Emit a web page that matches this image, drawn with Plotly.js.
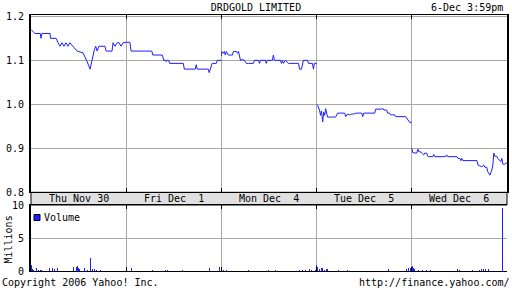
<!DOCTYPE html>
<html>
<head>
<meta charset="utf-8">
<script src="https://cdn.plot.ly/plotly-3.0.1.min.js"></script>
<style>html,body{margin:0;padding:0;background:#fff;}#chart{width:512px;height:288px;}</style>
</head>
<body>
<div id="chart"></div>
<script>
// ---- data ----
const dayLabels = ["Thu Nov 30", "Fri Dec\u00a0 1", "Mon Dec\u00a0 4", "Tue Dec\u00a0 5", "Wed Dec\u00a0 6"];

const thuTimes = ["09:30","09:46","10:08","10:11","10:15","10:48","10:50","11:13","11:21","11:29","11:37","11:45","11:53","12:01","12:09","12:22","12:39","13:03","13:10","13:20","13:32","13:38","13:45","13:50","13:55","14:01","14:08","14:33","14:38","15:02","15:06","15:14","15:23","15:31","15:39","15:47","16:00"];
const thuPrice = [1.170,1.161,1.161,1.150,1.161,1.161,1.150,1.150,1.140,1.132,1.140,1.132,1.140,1.132,1.140,1.131,1.121,1.117,1.110,1.097,1.080,1.097,1.112,1.125,1.132,1.121,1.132,1.132,1.121,1.121,1.140,1.132,1.140,1.140,1.132,1.140,1.141];

const friTimes = ["09:30","09:45","09:50","11:15","11:19","11:58","12:04","12:12","12:14","12:18","12:24","12:28","13:24","13:28","14:13","14:17","14:21","15:06","15:10","15:16","15:22","15:39","15:43","16:00"];
const friPrice = [1.141,1.141,1.121,1.121,1.112,1.112,1.100,1.100,1.097,1.100,1.100,1.093,1.093,1.080,1.080,1.090,1.080,1.080,1.072,1.085,1.093,1.093,1.100,1.100];

const monTimes = ["09:30","09:32","09:38","09:42","09:46","09:50","09:59","10:15","10:19","10:32","10:36","10:40","10:48","10:56","11:04","11:12","11:21","11:41","11:45","12:02","12:06","12:10","12:30","12:34","12:38","12:59","13:03","13:07","13:32","13:36","13:40","13:44","13:52","14:05","14:46","14:50","14:58","15:02","15:06","15:23","15:27","15:43","15:47","15:51","16:00"];
const monPrice = [1.110,1.120,1.116,1.120,1.112,1.120,1.112,1.112,1.120,1.120,1.116,1.120,1.100,1.102,1.100,1.093,1.093,1.093,1.100,1.100,1.093,1.100,1.100,1.093,1.100,1.100,1.112,1.100,1.100,1.093,1.100,1.093,1.100,1.093,1.093,1.080,1.080,1.093,1.100,1.100,1.093,1.093,1.080,1.093,1.093];

const tueTimes = ["09:30","09:34","09:42","09:46","09:50","09:55","09:59","10:03","10:07","10:11","10:15","10:48","10:52","10:56","11:25","11:29","11:37","11:45","11:53","12:01","12:14","12:35","12:39","12:43","13:28","13:32","13:57","14:01","14:05","14:17","14:21","14:29","14:33","14:50","14:54","15:35","15:39","15:47","15:51","16:00"];
const tuePrice = [1.000,0.998,0.987,0.975,0.985,0.960,0.982,0.975,0.990,0.978,0.971,0.971,0.978,0.980,0.980,0.972,0.978,0.976,0.978,0.978,0.980,0.980,0.972,0.980,0.980,0.989,0.989,0.991,0.987,0.987,0.980,0.980,0.976,0.976,0.972,0.972,0.969,0.964,0.959,0.959];

const wedTimes = ["09:30","09:34","09:50","09:55","09:59","10:07","10:11","10:19","10:23","10:31","10:35","10:39","10:56","11:00","11:04","11:49","11:53","11:57","12:35","12:39","12:47","12:51","12:55","12:59","13:57","14:01","14:09","14:17","14:25","14:29","14:37","14:41","14:50","14:54","14:58","15:02","15:06","15:10","15:18","15:22","15:31","15:35","15:39","15:43","15:51","15:55","16:00"];
const wedPrice = [0.900,0.890,0.889,0.898,0.892,0.892,0.889,0.885,0.889,0.889,0.882,0.881,0.881,0.886,0.881,0.881,0.885,0.881,0.881,0.877,0.877,0.872,0.877,0.872,0.872,0.862,0.860,0.858,0.862,0.857,0.857,0.847,0.839,0.845,0.851,0.862,0.889,0.882,0.882,0.877,0.873,0.870,0.877,0.864,0.864,0.866,0.866];

const thuVolTimes = ["09:30","09:34","09:38","09:50","09:59","10:07","10:11","10:44","10:56","11:04","11:17","12:22","12:35","12:39","12:43","12:47","13:07","13:20","13:32","13:40","13:48","13:56","14:13"];
const thuVol = [0.96,0.3,0.2,0.46,0.2,0.2,0.2,0.46,0.46,0.3,0.46,0.61,0.61,0.81,0.46,0.3,0.4,0.2,1.99,0.3,0.3,0.2,0.2];
const friVolTimes = ["09:50","11:17","12:10","12:18","13:20","15:10","15:51"];
const friVol = [0.4,0.2,0.2,0.2,0.2,0.4,0.6];
const monVolTimes = ["09:30","09:38","09:50","11:21","12:43","13:11","14:50","15:02","15:14","15:31","15:39","15:55"];
const monVol = [0.65,0.2,0.2,0.2,0.2,0.2,0.2,0.2,0.2,0.3,0.2,0.2];
const tueVolTimes = ["09:30","09:34","09:42","09:50","09:55","10:03","10:11","10:15","11:00","11:37","14:01","14:25","15:39","15:47","15:55"];
const tueVol = [0.96,0.6,0.3,0.5,0.4,0.2,0.3,0.3,0.2,0.2,0.3,0.3,0.3,0.4,0.5];
const wedVolTimes = ["09:30","09:34","09:42","09:55","10:11","10:31","10:44","11:04","12:35","12:43","13:36","14:05","14:13","14:21","14:29","14:37","14:45","15:39"];
const wedVol = [0.8,0.5,0.3,0.2,0.2,0.2,0.2,0.3,0.3,0.2,0.2,0.2,0.3,0.3,0.3,0.4,0.3,9.6];

const priceTicks = [0.8, 0.9, 1.0, 1.1, 1.2];
const volTicks = [0, 5, 10];

// ---- helpers ----
const SESSION = 390; // minutes per trading day (9:30-16:00)
function toX(dayIdx, hhmm) {
  const [h, m] = hhmm.split(":").map(Number);
  return dayIdx * SESSION + (h * 60 + m - 570);
}
const priceDays = [[thuTimes, thuPrice], [friTimes, friPrice], [monTimes, monPrice], [tueTimes, tuePrice], [wedTimes, wedPrice]];
const volDays = [[thuVolTimes, thuVol], [friVolTimes, friVol], [monVolTimes, monVol], [tueVolTimes, tueVol], [wedVolTimes, wedVol]];

const px = [], py = [];
priceDays.forEach(([t, p], d) => {
  t.forEach((tt, i) => { px.push(toX(d, tt)); py.push(p[i]); });
  px.push(null); py.push(null);
});
const vx = [], vy = [];
volDays.forEach(([t, v], d) => {
  t.forEach((tt, i) => { vx.push(toX(d, tt) + 1); vy.push(v[i]); });
});

const blue = "#1e1eff";
const font = {family: "DejaVu Sans Mono, Liberation Mono, monospace", size: 10, color: "#000"};
const dayBounds = [1, 2, 3, 4].map(d => d * SESSION);

const H = 256, W = 476; // plot area size in px
const priceBottom = (271 - 192.3) / H;
const volTop = (271 - 205) / H;

const traces = [
  {x: px, y: py, type: "scatter", mode: "lines", line: {color: blue, width: 1}, connectgaps: false,
   xaxis: "x", yaxis: "y", showlegend: false, hoverinfo: "skip"},
  {x: vx, y: vy, type: "bar", width: 4, marker: {color: blue, line: {width: 0}},
   xaxis: "x2", yaxis: "y2", showlegend: false, hoverinfo: "skip"}
];

const annotations = dayLabels.map((lab, d) => ({
  text: lab, x: d * SESSION + SESSION / 2, xref: "x", y: (271 - 198.7) / H, yref: "paper",
  xanchor: "center", yanchor: "middle", showarrow: false, font: font
}));
annotations.push(
  {text: "6-Dec 3:59pm", x: (505 - 31) / W, xref: "paper", y: (271 - 7) / H, yref: "paper",
   xanchor: "right", yanchor: "middle", showarrow: false, font: font},
  {text: "Volume", x: (42 - 31) / W, xref: "paper", y: (271 - 217.5) / H, yref: "paper",
   xanchor: "left", yanchor: "middle", showarrow: false, font: font},
  {text: "Millions", x: (8 - 31) / W, xref: "paper", y: (271 - 239.5) / H, yref: "paper",
   xanchor: "center", yanchor: "middle", textangle: -90, showarrow: false, font: font},
  {text: "Copyright 2006 Yahoo! Inc.", x: (0 - 31) / W, xref: "paper", y: (271 - 282.5) / H, yref: "paper",
   xanchor: "left", yanchor: "middle", showarrow: false, font: font},
  {text: "http://finance.yahoo.com/", x: (512 - 31) / W, xref: "paper", y: (271 - 282.5) / H, yref: "paper",
   xanchor: "right", yanchor: "middle", showarrow: false, font: font}
);

const shapes = [
  {type: "rect", xref: "paper", yref: "paper", x0: 0, x1: 1, y0: volTop, y1: priceBottom,
   fillcolor: "#e0e0e0", line: {color: "#000", width: 1}, layer: "below"},
  {type: "rect", xref: "paper", yref: "paper", x0: (34 - 31) / W, x1: (40 - 31) / W,
   y0: (271 - 220.5) / H, y1: (271 - 214.5) / H, fillcolor: blue, line: {color: "#000022", width: 1}}
];

const gridColor = "#a8a8a8";
const layout = {
  width: 512, height: 288,
  margin: {l: 31, r: 5, t: 15, b: 17, pad: 0},
  paper_bgcolor: "#fff", plot_bgcolor: "#fff",
  font: font,
  title: {text: "DRDGOLD LIMITED", x: 0.5, xref: "container", xanchor: "center",
          y: 1 - 7.5 / 288, yref: "container", yanchor: "middle", font: font},
  showlegend: false,
  bargap: 0,
  xaxis: {domain: [0, 1], range: [0, 5 * SESSION], anchor: "y", tickvals: dayBounds, showticklabels: false,
          showgrid: true, gridcolor: gridColor, gridwidth: 1, zeroline: false,
          ticks: "inside", ticklen: 4, tickcolor: "#000", tickwidth: 1,
          showline: true, linecolor: "#000", linewidth: 1, mirror: "ticks", fixedrange: true},
  yaxis: {domain: [priceBottom, 1], range: [0.8, 1.203], anchor: "x", tickvals: priceTicks, tickformat: ".1f",
          showgrid: true, gridcolor: gridColor, gridwidth: 1, zeroline: false,
          ticks: "", ticklabelstandoff: 3,
          showline: true, linecolor: "#000", linewidth: 2, mirror: true, tickfont: font, fixedrange: true},
  yaxis3: {overlaying: "y", side: "right", anchor: "x", range: [0.8, 1.203], tickvals: priceTicks,
           showticklabels: false, showgrid: false, zeroline: false, showline: false,
           ticks: "outside", ticklen: 4, tickcolor: "#000", tickwidth: 1, fixedrange: true},
  xaxis2: {domain: [0, 1], range: [0, 5 * SESSION], anchor: "y2", tickvals: dayBounds, showticklabels: false,
           showgrid: true, gridcolor: gridColor, gridwidth: 1, zeroline: false,
           ticks: "inside", ticklen: 4, tickcolor: "#000", tickwidth: 1,
           showline: true, linecolor: "#000", linewidth: 1, mirror: "ticks", fixedrange: true},
  yaxis2: {domain: [0, volTop], range: [0, 10.09], anchor: "x2", tickvals: volTicks,
           showgrid: true, gridcolor: gridColor, gridwidth: 1, zeroline: false,
           ticks: "", ticklabelstandoff: 3,
           showline: true, linecolor: "#000", linewidth: 2,
           tickfont: {family: font.family, size: 10, color: "#000"}, fixedrange: true},
  annotations: annotations,
  shapes: shapes
};

Plotly.newPlot("chart", traces, layout, {staticPlot: true, displayModeBar: false});
</script>
</body>
</html>
